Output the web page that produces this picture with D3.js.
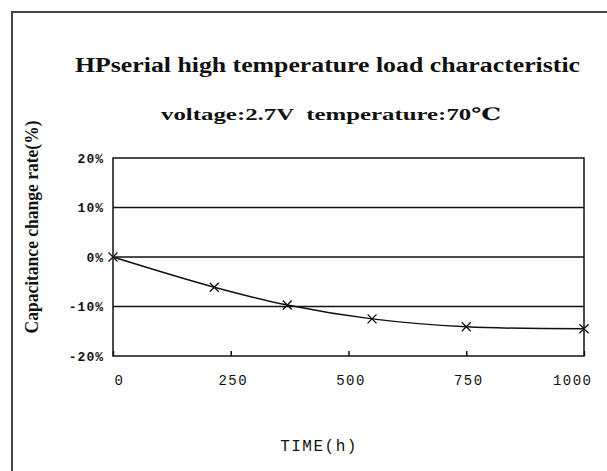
<!DOCTYPE html>
<html><head><meta charset="utf-8">
<script src="https://cdn.jsdelivr.net/npm/d3@7"></script>
<style>
body{margin:0;background:#fff;}
svg{display:block;}
</style></head>
<body>
<svg id="chart" width="607" height="471"></svg>
<script>
const hours = [0, 215, 370, 550, 750, 1000];
const changeRate = [0, -6.1, -9.7, -12.5, -14.1, -14.5];
const xTicks = [0, 250, 500, 750, 1000];
const yTicks = [20, 10, 0, -10, -20];
const titleText = "HPserial high temperature load characteristic";
const subtitleText = "voltage:2.7V  temperature:70\u2103";
const xLabel = "TIME(h)";
const yLabel = "Capacitance change rate(%)";

(function () {
const svg = d3.select("#chart");
const W = 607, H = 471;
const pL = 113, pR = 584, pT = 158, pB = 356;

// outer frame
svg.append("rect").attr("x", 12).attr("y", 12).attr("width", W).attr("height", H)
  .attr("fill", "#fff").attr("stroke", "#444").attr("stroke-width", 2);

const x = d3.scaleLinear().domain([0, 1000]).range([pL, pR]);
const y = d3.scaleLinear().domain([-20, 20]).range([pB, pT]);

// gridlines
svg.append("g").selectAll("line").data(yTicks.filter(d => d !== 20 && d !== -20)).join("line")
  .attr("x1", pL).attr("x2", pR).attr("y1", d => y(d)).attr("y2", d => y(d))
  .attr("stroke", "#111").attr("stroke-width", 1.5);

// plot box
svg.append("rect").attr("x", pL).attr("y", pT).attr("width", pR - pL).attr("height", pB - pT)
  .attr("fill", "none").attr("stroke", "#111").attr("stroke-width", 1.5);

// x tick marks (inside)
const xAxis = d3.axisBottom(x).tickValues(xTicks).tickSize(-5).tickFormat(d => d).tickPadding(19);
const gx = svg.append("g").attr("transform", `translate(0,${pB})`).call(xAxis);
gx.select(".domain").remove();
gx.selectAll(".tick line").attr("stroke", "#111").attr("stroke-width", 1.5);
gx.selectAll(".tick text")
  .attr("font-family", "'Liberation Mono', 'DejaVu Sans Mono', monospace")
  .attr("font-size", 14).attr("fill", "#111").attr("letter-spacing", "1.5px")
  .attr("text-anchor", d => d === 0 ? "start" : (d === 1000 ? "end" : "middle"))
  .attr("dx", d => d === 0 ? 1 : (d === 1000 ? 8 : 2));

// y axis labels
const yAxis = d3.axisLeft(y).tickValues(yTicks).tickSize(0).tickPadding(9).tickFormat(d => d + "%");
const gy = svg.append("g").attr("transform", `translate(${pL},0)`).call(yAxis);
gy.select(".domain").remove();
gy.selectAll(".tick text")
  .attr("font-family", "'Liberation Mono', 'DejaVu Sans Mono', monospace")
  .attr("font-size", 13).attr("font-weight", "bold").attr("fill", "#111").attr("letter-spacing", "1px");

// line
const pts = hours.map((h, i) => [h, changeRate[i]]);
const line = d3.line().x(d => x(d[0])).y(d => y(d[1])).curve(d3.curveCatmullRom.alpha(0.5));
svg.append("path").datum(pts).attr("d", line).attr("fill", "none")
  .attr("stroke", "#111").attr("stroke-width", 1.5);

// x markers
const s = 4.5;
svg.append("g").selectAll("path").data(pts).join("path")
  .attr("d", d => {
    const cx = x(d[0]), cy = y(d[1]);
    return `M${cx - s},${cy - s}L${cx + s},${cy + s}M${cx - s},${cy + s}L${cx + s},${cy - s}`;
  })
  .attr("stroke", "#111").attr("stroke-width", 1.3).attr("fill", "none");

// titles
svg.append("text").attr("x", 75).attr("y", 72)
  .attr("font-family", "'Liberation Serif', 'DejaVu Serif', serif").attr("font-weight", "bold")
  .attr("font-size", 20).attr("fill", "#111")
  .attr("textLength", 505).attr("lengthAdjust", "spacingAndGlyphs")
  .text(titleText);

svg.append("text").attr("x", 161).attr("y", 120)
  .attr("font-family", "'Liberation Serif', 'DejaVu Serif', serif").attr("font-weight", "bold")
  .attr("font-size", 17).attr("fill", "#111")
  .attr("textLength", 340).attr("lengthAdjust", "spacingAndGlyphs")
  .attr("xml:space", "preserve")
  .text(subtitleText);

// axis titles
svg.append("text").attr("x", 319).attr("y", 451).attr("text-anchor", "middle")
  .attr("font-family", "'Liberation Mono', 'DejaVu Sans Mono', monospace")
  .attr("font-size", 16).attr("fill", "#111").attr("letter-spacing", "1.5px")
  .text(xLabel);

svg.append("text").attr("transform", "translate(38,227) rotate(-90)")
  .attr("text-anchor", "middle")
  .attr("font-family", "'Liberation Serif', 'DejaVu Serif', serif").attr("font-weight", "bold")
  .attr("font-size", 19).attr("fill", "#111")
  .attr("textLength", 213).attr("lengthAdjust", "spacingAndGlyphs")
  .text(yLabel);
})();
</script>
</body></html>
